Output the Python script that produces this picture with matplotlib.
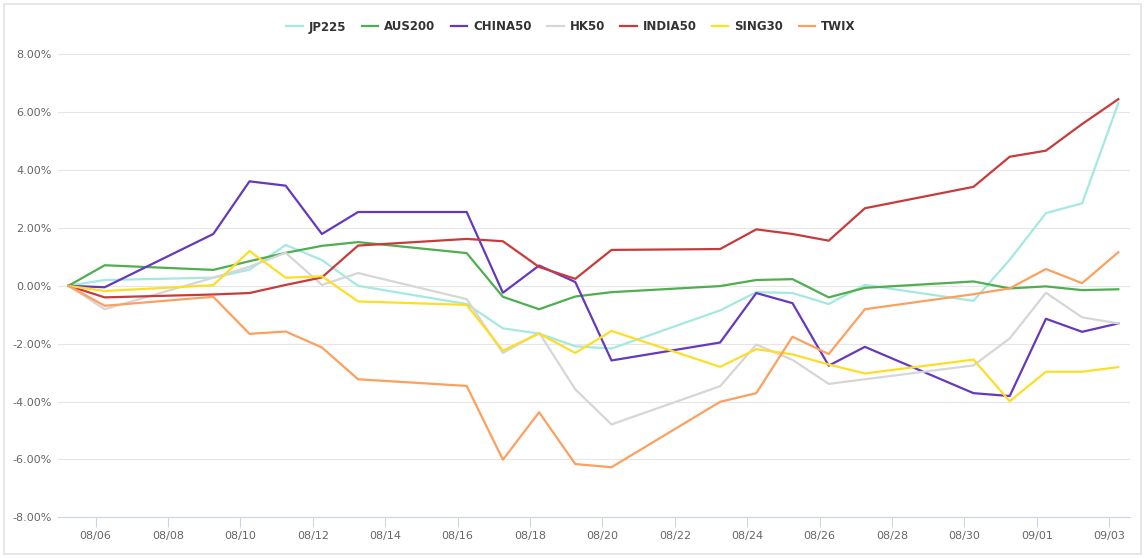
#!/usr/bin/env python
"""Cumulative returns of Asia-Pacific indices, Aug-Sep 2021."""

from datetime import datetime, timedelta

import matplotlib
matplotlib.use("Agg")
import matplotlib.pyplot as plt
import matplotlib.dates as mdates
from matplotlib.patches import Rectangle
from matplotlib.ticker import FuncFormatter, MultipleLocator

# trading days (points sit at 06:00 local on each day)
dates = ["08/05", "08/06", "08/09", "08/10", "08/11", "08/12", "08/13",
         "08/16", "08/17", "08/18", "08/19", "08/20", "08/23", "08/24",
         "08/25", "08/26", "08/27", "08/30", "08/31", "09/01", "09/02", "09/03"]

jp225 = [0, 0.20, 0.28, 0.56, 1.41, 0.89, 0.00, -0.63, -1.47, -1.65, -2.09,
         -2.17, -0.85, -0.22, -0.25, -0.63, 0.03, -0.52, 0.90, 2.51, 2.85, 6.31]
aus200 = [0, 0.71, 0.55, 0.85, 1.14, 1.38, 1.51, 1.13, -0.38, -0.81, -0.37,
          -0.22, -0.01, 0.20, 0.23, -0.40, -0.07, 0.15, -0.09, -0.02, -0.15, -0.12]
china50 = [0, -0.05, 1.79, 3.61, 3.46, 1.79, 2.55, 2.55, -0.24, 0.70, 0.13,
           -2.58, -1.96, -0.25, -0.60, -2.76, -2.11, -3.71, -3.81, -1.14, -1.59, -1.30]
hk50 = [0, -0.81, 0.28, 0.66, 1.14, 0.03, 0.44, -0.46, -2.32, -1.62, -3.58,
        -4.79, -3.47, -2.03, -2.56, -3.39, -3.23, -2.75, -1.82, -0.24, -1.09, -1.30]
india50 = [0, -0.40, -0.30, -0.25, 0.03, 0.29, 1.39, 1.62, 1.54, 0.65, 0.24,
           1.24, 1.27, 1.95, 1.79, 1.56, 2.68, 3.42, 4.46, 4.67, 5.59, 6.45]
sing30 = [0, -0.18, 0.02, 1.20, 0.28, 0.33, -0.54, -0.66, -2.24, -1.65, -2.32,
          -1.56, -2.80, -2.19, -2.37, -2.72, -3.03, -2.55, -3.99, -2.97, -2.97, -2.81]
twix = [0, -0.69, -0.38, -1.66, -1.58, -2.13, -3.23, -3.46, -6.01, -4.37, -6.16,
        -6.27, -4.01, -3.71, -1.76, -2.36, -0.81, -0.29, -0.09, 0.58, 0.09, 1.16]

series = [
    ("JP225", jp225, "#a3e9df"),
    ("AUS200", aus200, "#4fae4f"),
    ("CHINA50", china50, "#6539bd"),
    ("HK50", hk50, "#d6d6d6"),
    ("INDIA50", india50, "#c93b3b"),
    ("SING30", sing30, "#fedd27"),
    ("TWIX", twix, "#fca05f"),
]

W, H = 1144, 558


def to_dt(s):
    m, d = s.split("/")
    return datetime(2021, int(m), int(d), 6)


def main():
    x = [to_dt(d) for d in dates]

    fig = plt.figure(figsize=(W / 100, H / 100), dpi=100)
    ax = fig.add_axes([58.3 / W, 1 - 517.3 / H, (1130 - 58.3) / W, (517.3 - 54.3) / H])

    fig.add_artist(Rectangle((3.5 / W, 1 - 554 / H), 1137 / W, 550.5 / H,
                             transform=fig.transFigure, fill=False,
                             edgecolor="#dfe4ea", lw=1.2))

    for name, vals, col in series:
        ax.plot(x, vals, color=col, lw=1.6, label=name, solid_joinstyle="round")

    ax.set_ylim(-8, 8)
    ax.yaxis.set_major_locator(MultipleLocator(2))
    ax.yaxis.set_major_formatter(FuncFormatter(lambda v, p: f"{v:.2f}%"))
    ax.set_xlim(datetime(2021, 8, 4, 23, 15), datetime(2021, 9, 3, 13, 45))
    ticks = [datetime(2021, 8, 6) + timedelta(days=2 * i) for i in range(15)]
    ax.set_xticks(ticks)
    ax.xaxis.set_major_formatter(mdates.DateFormatter("%m/%d"))

    ax.grid(axis="y", color="#e6e6e6", lw=0.8)
    ax.set_axisbelow(True)
    for s in ("left", "right", "top"):
        ax.spines[s].set_visible(False)
    ax.spines["bottom"].set_color("#ccd6eb")
    ax.spines["bottom"].set_linewidth(0.8)
    ax.tick_params(axis="y", length=0, pad=5, labelsize=8, labelcolor="#666666")
    ax.tick_params(axis="x", length=7, width=0.8, color="#ccd6eb", pad=3,
                   labelsize=8, labelcolor="#666666")

    leg = ax.legend(loc="center", bbox_to_anchor=(571 / W, 1 - 27 / H),
                    bbox_transform=fig.transFigure, ncol=7, frameon=False,
                    handlelength=1.4, handletextpad=0.5, columnspacing=1.3,
                    prop={"size": 8.5, "weight": "bold"})
    for t in leg.get_texts():
        t.set_color("#333333")

    fig.savefig("out.png", dpi=100)


if __name__ == "__main__":
    main()
